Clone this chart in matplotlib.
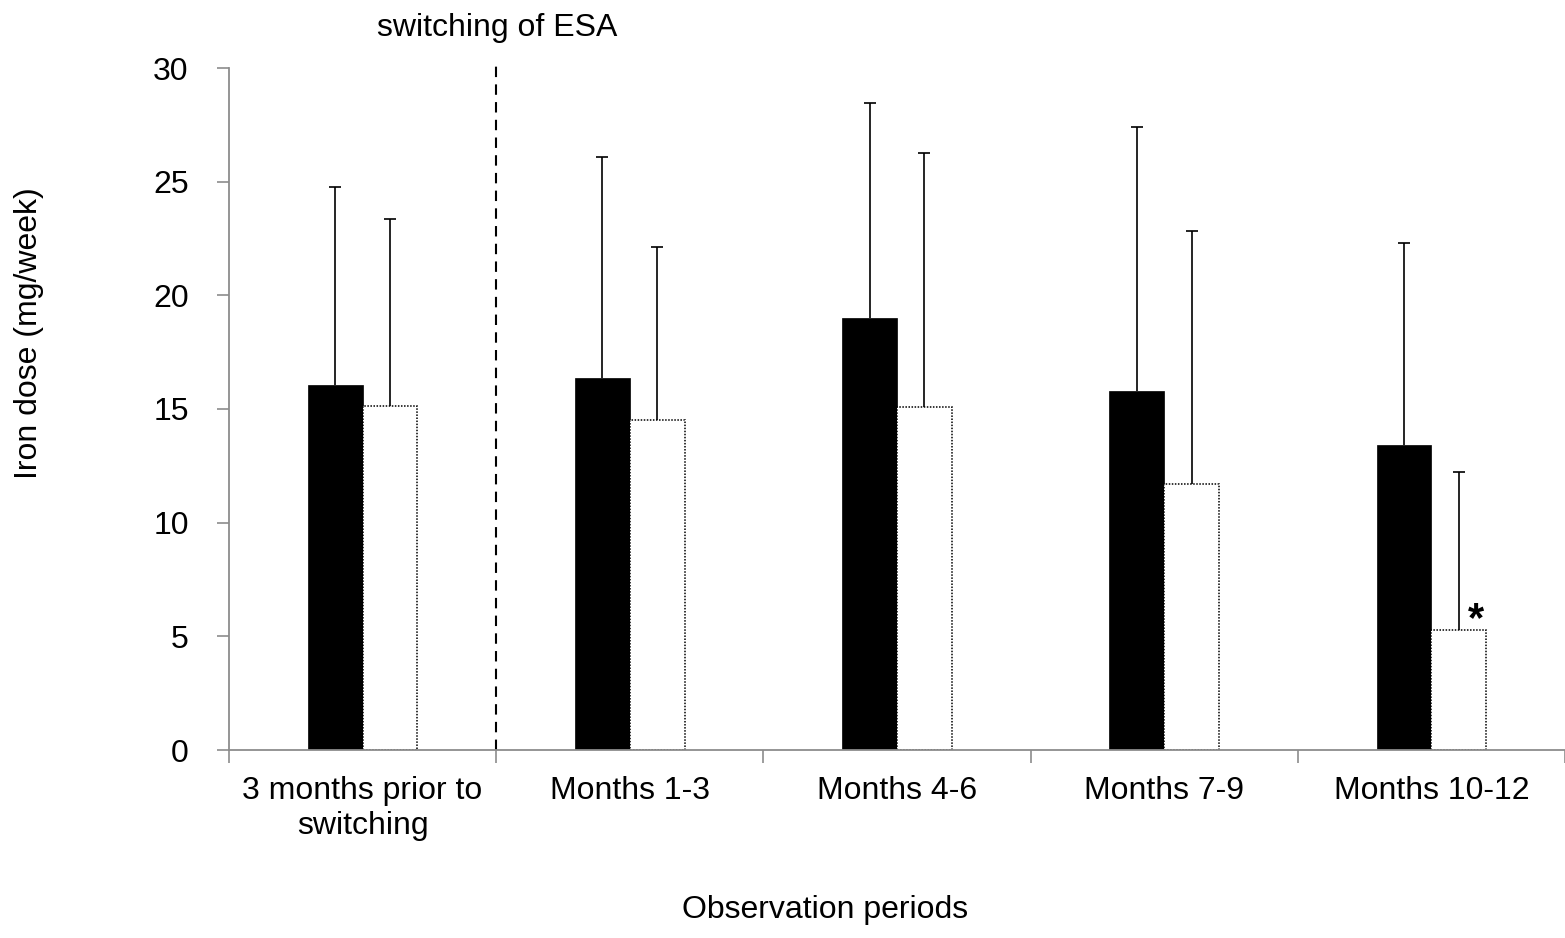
import matplotlib
matplotlib.use("Agg")
import matplotlib.pyplot as plt
import numpy as np

plt.rcParams['font.family'] = ['Liberation Sans', 'DejaVu Sans']

periods = ["3 months prior to\nswitching", "Months 1-3", "Months 4-6",
           "Months 7-9", "Months 10-12"]
group_a_mean = [16.06, 16.37, 19.0, 15.8, 13.42]
group_a_upper = [24.77, 26.09, 28.46, 27.41, 22.31]
group_b_mean = [15.13, 14.52, 15.09, 11.70, 5.28]
group_b_upper = [23.36, 22.13, 26.26, 22.83, 12.23]

a_err = np.array(group_a_upper) - np.array(group_a_mean)
b_err = np.array(group_b_upper) - np.array(group_b_mean)

fig = plt.figure(figsize=(15.65, 9.38), dpi=100)
ax = fig.add_axes([229 / 1565, 1 - 750 / 938, 1336 / 1565, 682 / 938])

x = np.arange(len(periods))
w = 0.205
spine_col = "#8c8c8c"
fs = 23

ax.bar(x - w / 2, group_a_mean, w, color="black", edgecolor="black",
       linewidth=0.5, zorder=2)
ax.bar(x + w / 2, group_b_mean, w, color="white", edgecolor="black",
       linewidth=1.1, linestyle=(0, (1, 1)), zorder=2)

# upper-only error bars: hide the lower caps
for xs, means, err in [(x - w / 2, group_a_mean, a_err),
                       (x + w / 2, group_b_mean, b_err)]:
    eb = ax.errorbar(xs, means, yerr=[np.zeros_like(err), err], fmt="none",
                     ecolor="black", elinewidth=1.2, capsize=4.5,
                     capthick=1.2, zorder=3)
    eb[1][0].set_visible(False)

# significance marker
ax.text(x[4] + w / 2 + 0.065, 5.25, "*", ha="center", va="baseline",
        fontsize=30, fontweight="bold")

# switch point between baseline and follow-up
ax.plot([0.5, 0.5], [0, 30.1], color="black", linestyle=(0, (5, 3.5)),
        linewidth=1.5, clip_on=False, zorder=1)
fig.text(497 / 1565, 1 - 28 / 938, "switching of ESA", ha="center",
         va="center", fontsize=fs)

ax.set_xlim(-0.5, -0.5 + 1336 / 268)
ax.set_ylim(0, 30)
ax.set_yticks(np.arange(0, 31, 5))
ax.set_xticks(x)
ax.set_xticklabels(periods, fontsize=fs)
ax.tick_params(axis="x", length=0, pad=19)
ax.set_xticks(np.arange(-0.5, 5.0, 1.0), minor=True)
ax.tick_params(axis="x", which="minor", length=9, width=1.2, color=spine_col)
ax.tick_params(axis="y", labelsize=fs, length=9, width=1.2, color=spine_col,
               pad=20)

for s in ["top", "right"]:
    ax.spines[s].set_visible(False)
for s in ["left", "bottom"]:
    ax.spines[s].set_color(spine_col)
    ax.spines[s].set_linewidth(1.3)

fig.text(29 / 1565, 1 - 333 / 938, "Iron dose (mg/week)", rotation=90,
         ha="center", va="center", fontsize=fs)
fig.text(825 / 1565, 1 - 910 / 938, "Observation periods", ha="center",
         va="center", fontsize=fs)

fig.savefig("out.png", dpi=100)
